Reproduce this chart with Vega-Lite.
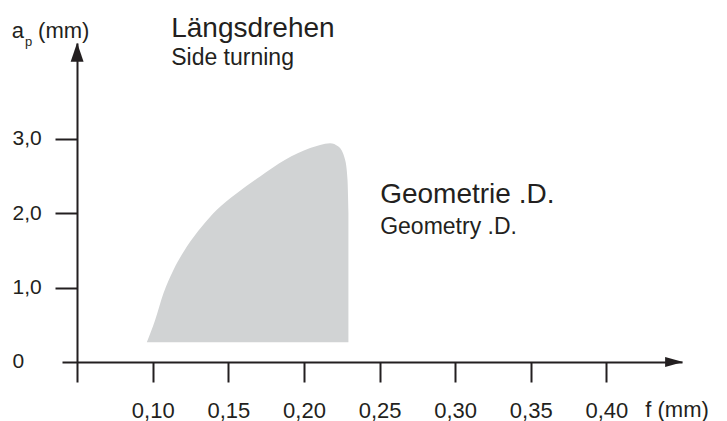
{
  "$schema": "https://vega.github.io/schema/vega-lite/v6.json",
  "autosize": "none",
  "padding": {"left": 62, "top": 43, "right": 45, "bottom": 39},
  "width": 620,
  "height": 339,
  "background": "white",
  "config": {
    "view": {"stroke": null},
    "font": "Liberation Sans",
    "axis": {"grid": false, "title": null, "domainColor": "#231f20", "tickColor": "#231f20", "labelColor": "#231f20", "domainWidth": 2, "tickWidth": 2, "labelFont": "Liberation Sans", "labelFontSize": 21}
  },
  "datasets": {
    "region": [
      {"f": 0.0961, "a": 0.265},
      {"f": 0.1016, "a": 0.565},
      {"f": 0.1071, "a": 0.925},
      {"f": 0.1137, "a": 1.238},
      {"f": 0.1226, "a": 1.552},
      {"f": 0.1325, "a": 1.821},
      {"f": 0.1424, "a": 2.046},
      {"f": 0.1556, "a": 2.270},
      {"f": 0.1710, "a": 2.494},
      {"f": 0.1876, "a": 2.719},
      {"f": 0.2041, "a": 2.876},
      {"f": 0.2173, "a": 2.943},
      {"f": 0.2228, "a": 2.898},
      {"f": 0.2272, "a": 2.719},
      {"f": 0.2288, "a": 2.450},
      {"f": 0.2294, "a": 2.005}
    ],
    "xarrow": [{"f": 0.4448, "a": 0}],
    "yarrow": [{"f": 0.05, "a": 4.166}],
    "big": [
      {"f": 0.1122, "a": 4.374, "label": "Längsdrehen"},
      {"f": 0.2504, "a": 2.14, "label": "Geometrie .D."}
    ],
    "small": [
      {"f": 0.1122, "a": 3.997, "label": "Side turning"},
      {"f": 0.2504, "a": 1.723, "label": "Geometry .D."}
    ],
    "ytitle": [
      {"f": 0.00681, "a": 4.361, "label": "a"},
      {"f": 0.0242, "a": 4.361, "label": "(mm)"}
    ],
    "ysub": [{"f": 0.0156, "a": 4.253, "label": "p"}],
    "xtitle": [{"f": 0.4257, "a": -0.74, "label": "f (mm)"}]
  },
  "encoding": {
    "x": {
      "field": "f", "type": "quantitative",
      "scale": {"domain": [0.04, 0.45], "nice": false, "zero": false},
      "axis": {
        "values": [0.1, 0.15, 0.2, 0.25, 0.3, 0.35, 0.4],
        "labelExpr": "replace(format(datum.value, '.2f'), '.', ',')",
        "offset": -20, "tickSize": 20, "labelBaseline": "alphabetic", "labelPadding": 35,
        "labelFontSize": 22, "labelFlush": false, "labelOverlap": false
      }
    },
    "y": {
      "field": "a", "type": "quantitative",
      "scale": {"domain": [-0.27, 4.29], "nice": false, "zero": false},
      "axis": {
        "values": [0, 1, 2, 3],
        "labelExpr": "datum.value == 0 ? '0' : replace(format(datum.value, '.1f'), '.', ',')",
        "offset": -15, "tickSize": 22, "labelAlign": "left", "labelBaseline": "middle", "labelPadding": 43,
        "tickOpacity": {"condition": {"test": "datum.value == 0", "value": 0}, "value": 1},
        "labelFlush": false, "labelOverlap": false
      }
    }
  },
  "layer": [
    {
      "data": {"name": "region"},
      "mark": {"type": "area", "color": "#d1d3d4", "interpolate": "monotone"},
      "encoding": {"y2": {"datum": 0.265}}
    },
    {
      "data": {"name": "xarrow"},
      "mark": {"type": "point", "shape": "M-1,-0.55L1,0L-1,0.55Z", "size": 324, "filled": true, "color": "#231f20", "opacity": 1, "strokeWidth": 0}
    },
    {
      "data": {"name": "yarrow"},
      "mark": {"type": "point", "shape": "M-0.68,1L0,-1L0.68,1Z", "size": 361, "filled": true, "color": "#231f20", "opacity": 1, "strokeWidth": 0}
    },
    {
      "data": {"name": "big"},
      "mark": {"type": "text", "align": "left", "baseline": "alphabetic", "fontSize": 28, "color": "#231f20"},
      "encoding": {"text": {"field": "label"}}
    },
    {
      "data": {"name": "small"},
      "mark": {"type": "text", "align": "left", "baseline": "alphabetic", "fontSize": 23, "color": "#231f20"},
      "encoding": {"text": {"field": "label"}}
    },
    {
      "data": {"name": "ytitle"},
      "mark": {"type": "text", "align": "left", "baseline": "alphabetic", "fontSize": 22, "color": "#231f20"},
      "encoding": {"text": {"field": "label"}}
    },
    {
      "data": {"name": "ysub"},
      "mark": {"type": "text", "align": "left", "baseline": "alphabetic", "fontSize": 13, "color": "#231f20"},
      "encoding": {"text": {"field": "label"}}
    },
    {
      "data": {"name": "xtitle"},
      "mark": {"type": "text", "align": "left", "baseline": "alphabetic", "fontSize": 22, "color": "#231f20"},
      "encoding": {"text": {"field": "label"}}
    }
  ]
}
